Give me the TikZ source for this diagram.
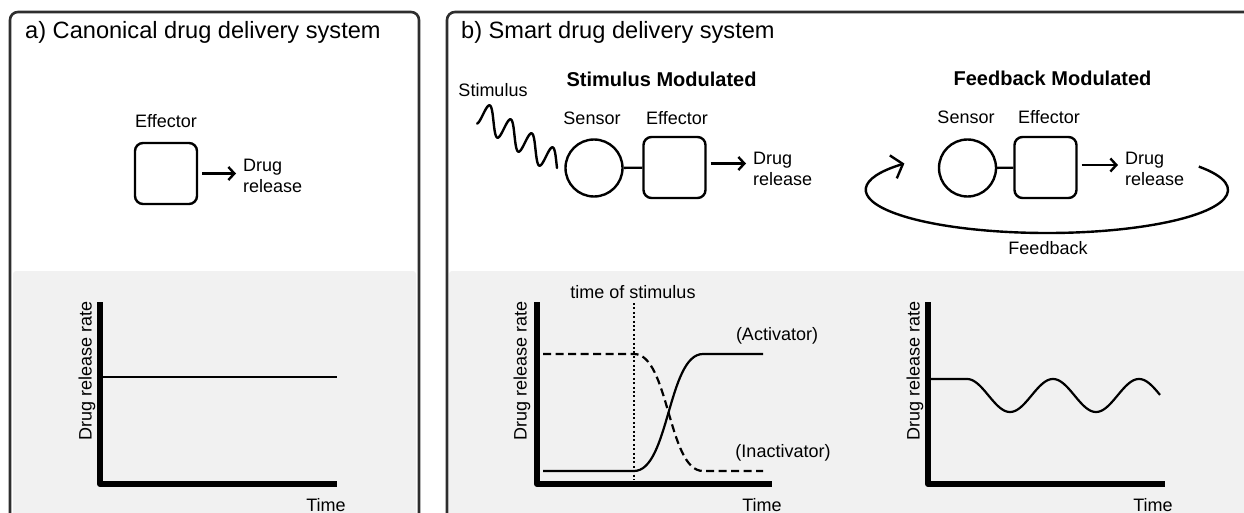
\documentclass[tikz,border=0pt]{standalone}
\usepackage{fontspec}
\setmainfont{Liberation Sans}
\usetikzlibrary{arrows.meta}
\definecolor{bggray}{HTML}{F1F1F1}
\definecolor{framecol}{HTML}{2E2E2E}
\begin{document}
\begin{tikzpicture}[x=1pt,y=1pt,
  frame/.style={draw=framecol, line width=2.6pt, rounded corners=8pt},
  graybg/.style={fill=bggray, rounded corners=3pt},
  effbox/.style={draw, line width=2.4pt, rounded corners=8pt, minimum width=62pt, minimum height=61pt, inner sep=0pt},
  sensor/.style={draw, circle, line width=2.4pt, minimum size=57pt, inner sep=0pt},
  lbl/.style={font=\fontsize{18}{21}\selectfont, inner sep=0pt},
  ttl/.style={font=\fontsize{23.6}{28}\selectfont, inner sep=0pt, anchor=base west},
  hdr/.style={font=\bfseries\fontsize{20}{24}\selectfont, inner sep=0pt},
  rel/.style={lbl, align=left, anchor=west},
  relarrow/.style={line width=2.4pt, -{Straight Barb[length=6pt,width=13pt]}, shorten <=4pt, shorten >=7pt},
  axis/.style={line width=6pt, line join=round},
  curve/.style={line width=2.2pt},
]
\useasboundingbox (0,0) rectangle (1244,-513);
\clip (0,0) rectangle (1244,-513);

% backgrounds
\fill[graybg] (13,-271) rectangle (416,-540);
\fill[graybg] (449,-271) rectangle (1260,-540);
\draw[frame] (10,-12) rectangle (419,-540);
\draw[frame] (447,-12) rectangle (1270,-540);

% ---------------- panel a ----------------
\node[ttl] (ta) at (25,-39) {a) Canonical drug delivery system};
\node[lbl] (effla) at (166,-121) {Effector};
\node[effbox] (eA) at (166,-173.5) {};
\node[rel] (dA) at (243,-176) {Drug\\release};
\path (eA.east) coordinate (sA);
\draw[relarrow] (sA) -- (sA -| dA.west);

% graph a
\coordinate (oA) at (100,-484);
\draw[axis] (100,-302) -- (oA) -- (337,-484);
\draw[line width=1.8pt] (100,-377) -- (337,-377);
\node[lbl, rotate=90] (ya) at (87,-371) {Drug release rate};
\node[lbl] (xa) at (326,-505) {Time};

% ---------------- panel b: stimulus ----------------
\node[ttl] (tb) at (461,-39) {b) Smart drug delivery system};
\node[hdr] (hs) at (661.5,-79) {Stimulus Modulated};
\node[lbl] (stim) at (493,-90) {Stimulus};
\node[lbl] (senl1) at (592,-118) {Sensor};
\node[lbl] (effl1) at (677,-118) {Effector};
\node[sensor] (sB) at (594,-168) {};
\node[effbox] (eB) at (674.5,-167.5) {};
\draw[line width=2.4pt] (sB) -- (eB);
\node[rel] (dB) at (753,-169) {Drug\\release};
\path ([yshift=4pt]eB.east) coordinate (aB);
\draw[relarrow] (aB) -- (aB -| dB.west);
% stimulus wave
\draw[line width=2.4pt, line cap=round] plot[domain=-0.2:3.55, samples=140, smooth]
  ({483+21*\x+1.75*sin(360*\x)}, {-(114.5+14*\x-12.5*sin(360*\x))});

% graph b
\coordinate (oB) at (537,-484);
\draw[axis] (537,-302) -- (oB) -- (772,-484);
\node[lbl, rotate=90] (yb) at (522,-371) {Drug release rate};
\node[lbl] (xb) at (762,-505) {Time};
\node[lbl] (tos) at (633,-292) {time of stimulus};
\draw[line width=2pt, dash pattern=on 2pt off 2.4pt] (634,-303) -- (634,-480);
\draw[curve, dash pattern=on 8pt off 4.5pt] (543,-354) -- (634,-354)
  .. controls (669,-354) and (668,-471) .. (703,-471) -- (763,-471);
\draw[curve] (543,-471) -- (634,-471)
  .. controls (669,-471) and (668,-354) .. (703,-354) -- (763,-354);
\node[lbl] (act) at (777,-335.5) {(Activator)};
\node[lbl] (inact) at (783,-452.5) {(Inactivator)};

% ---------------- panel b: feedback ----------------
\node[hdr] (hf) at (1052.5,-78) {Feedback Modulated};
\node[lbl] (senl2) at (966,-117) {Sensor};
\node[lbl] (effl2) at (1049,-117) {Effector};
\node[sensor] (sC) at (967.5,-168) {};
\node[effbox] (eC) at (1045.5,-167.5) {};
\draw[line width=2.4pt] (sC) -- (eC);
\node[rel] (dC) at (1125,-169) {Drug\\release};
\path ([yshift=2.5pt]eC.east) coordinate (aC);
\draw[relarrow] (aC) -- (aC -| dC.west);
\draw[line width=2.4pt, -{Straight Barb[length=10pt,width=24pt]}]
  (1047,-190) ++(33:181 and 43) arc[start angle=33, end angle=-218, x radius=181, y radius=43];
\node[lbl] (fb) at (1048,-248) {Feedback};

% graph c
\coordinate (oC) at (928,-484);
\draw[axis] (928,-302) -- (oC) -- (1165,-484);
\node[lbl, rotate=90] (yc) at (915,-371) {Drug release rate};
\node[lbl] (xc) at (1153,-505) {Time};
\draw[curve] (928,-379) -- (967,-379) --
  plot[domain=0:193, samples=120, smooth] ({967+\x}, {-395.5+16.5*cos(4.186*\x)});
\end{tikzpicture}
\end{document}
